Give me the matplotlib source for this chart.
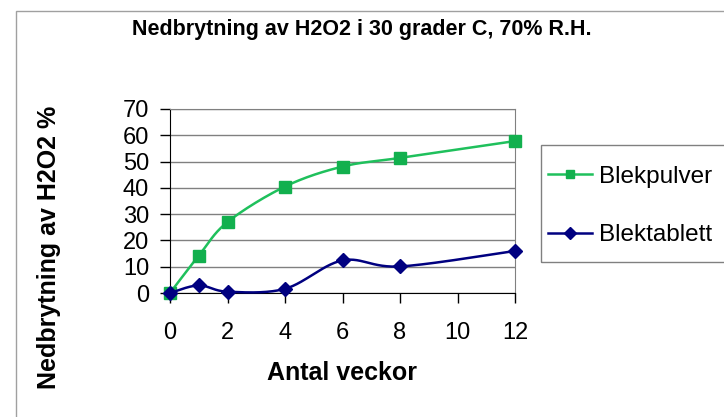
import numpy as np
import matplotlib
matplotlib.use("Agg")
import matplotlib.pyplot as plt
from matplotlib.lines import Line2D
from matplotlib.patches import Rectangle

plt.rcParams['font.family'] = ['Liberation Sans', 'DejaVu Sans']

# Data
weeks = [0, 1, 2, 4, 6, 8, 12]
blekpulver = [0, 14.2, 27.0, 40.5, 48.1, 51.4, 57.8]
blektablett = [0, 2.9, 0.5, 1.6, 12.4, 10.1, 16.0]
series_names = ['Blekpulver', 'Blektablett']
x_ticks = [0, 2, 4, 6, 8, 10, 12]
y_ticks = [0, 10, 20, 30, 40, 50, 60, 70]

GREEN_LINE = '#1fc05c'
GREEN_MARK = '#12b04e'
NAVY = '#000080'

W, H = 724, 417


def smooth(ax, x, y, n=30):
    # Excel-style smoothed line: bezier through points, in pixel space
    pts = ax.transData.transform(np.column_stack([x, y]))
    out = []
    for i in range(len(pts) - 1):
        p0 = pts[i - 1] if i > 0 else pts[i]
        p1 = pts[i]
        p2 = pts[i + 1]
        p3 = pts[i + 2] if i + 2 < len(pts) else pts[i + 1]
        c1 = p1 + (p2 - p0) / 6
        c2 = p2 - (p3 - p1) / 6
        t = np.linspace(0, 1, n)[:, None]
        seg = (1 - t) ** 3 * p1 + 3 * (1 - t) ** 2 * t * c1 + 3 * (1 - t) * t ** 2 * c2 + t ** 3 * p2
        out.append(seg if i == 0 else seg[1:])
    xy = ax.transData.inverted().transform(np.vstack(out))
    return xy[:, 0], xy[:, 1]


fig = plt.figure(figsize=(W / 100, H / 100), dpi=100)
ax = fig.add_axes([170 / W, 1 - 293 / H, (515 - 170) / W, (293 - 109) / H])
ax.set_xlim(0, 12)
ax.set_ylim(0, 70)

# outer chart frame
fig.add_artist(Rectangle((16 / W, -0.1), 1.0, 1 - 11 / H + 0.1, transform=fig.transFigure,
                         fill=False, edgecolor='#a0a0a0', lw=1))

sx, sy = smooth(ax, weeks, blekpulver)
ax.plot(sx, sy, color=GREEN_LINE, lw=1.8, zorder=3, clip_on=False)
ax.plot(weeks, blekpulver, ls='none', marker='s', ms=8, color=GREEN_MARK, zorder=4, clip_on=False)

sx, sy = smooth(ax, weeks, blektablett)
ax.plot(sx, sy, color=NAVY, lw=1.8, zorder=5, clip_on=False)
ax.plot(weeks, blektablett, ls='none', marker='D', ms=7.5, color=NAVY, zorder=6, clip_on=False)

ax.set_xticks(x_ticks)
ax.set_yticks(y_ticks)
ax.tick_params(axis='x', direction='out', length=7, width=1, pad=14, labelsize=17, colors='black')
ax.tick_params(axis='y', direction='out', length=7, width=1, pad=8, labelsize=17, colors='black')
ax.yaxis.grid(True, color='#808080', lw=1)
ax.set_axisbelow(True)
for s in ['top', 'right']:
    ax.spines[s].set_color('#808080')
for s in ['left', 'bottom']:
    ax.spines[s].set_color('black')

fig.text(0.5, 1 - 29 / H, 'Nedbrytning av H2O2 i 30 grader C, 70% R.H.',
         ha='center', va='center', fontsize=15.5, fontweight='bold')
fig.text(342 / W, 1 - 373 / H, 'Antal veckor', ha='center', va='center',
         fontsize=18, fontweight='bold')
fig.text(49 / W, 1 - 247 / H, 'Nedbrytning av H2O2 %', ha='center', va='center',
         rotation=90, fontsize=18, fontweight='bold')

# legend
fig.add_artist(Rectangle((541 / W, 1 - 262 / H), 0.5, (262 - 145) / H, transform=fig.transFigure,
                         fill=False, edgecolor='#808080', lw=1))
handles = [Line2D([], [], color=GREEN_LINE, lw=1.8, marker='s', ms=6, mfc=GREEN_MARK, mec=GREEN_MARK),
           Line2D([], [], color=NAVY, lw=1.8, marker='D', ms=6)]
fig.legend(handles, series_names, loc='center left', bbox_to_anchor=(548 / W, 1 - 206 / H),
           frameon=False, fontsize=17.5, handlelength=1.8, handletextpad=0.3,
           labelspacing=1.5, borderpad=0, borderaxespad=0)

fig.savefig('out.png', dpi=100)
